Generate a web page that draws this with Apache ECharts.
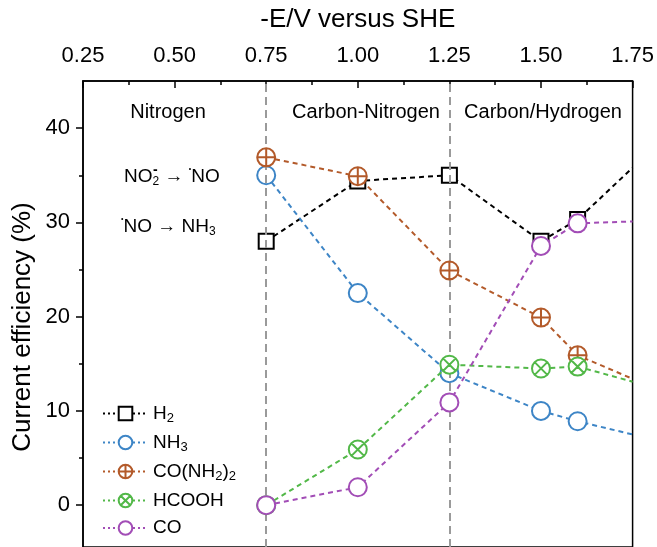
<!DOCTYPE html>
<html>
<head>
<meta charset="utf-8">
<script src="https://cdn.jsdelivr.net/npm/echarts@6/dist/echarts.min.js"></script>
<style>html,body{margin:0;padding:0;background:#fff}#c{width:657px;height:547px}</style>
</head>
<body>
<div id="c"></div>
<script>
// ---- data ----
const potentials = [0.75, 1.00, 1.25, 1.50, 1.60, 1.75];
const H2    = [28.0, 34.4, 35.0, 28.0, 30.3, 35.8];
const NH3   = [35.0, 22.5, 14.0, 10.0, 8.9, 7.5];
const UREA  = [36.9, 34.9, 24.9, 19.9, 15.9, 13.4];
const HCOOH = [0.0, 5.9, 14.9, 14.5, 14.7, 13.1];
const CO    = [0.0, 1.9, 10.9, 27.5, 29.9, 30.1];
const seriesNames = ['H2', 'NH3', 'CO(NH2)2', 'HCOOH', 'CO'];
const xTicks = [0.25, 0.50, 0.75, 1.00, 1.25, 1.50, 1.75];
const yMajor = [0, 10, 20, 30, 40];
const yMinor = [5, 15, 25, 35];
const boundaries = [0.75, 1.25];
const regions = ['Nitrogen', 'Carbon-Nitrogen', 'Carbon/Hydrogen'];

const FONT = '"Liberation Sans", Arial, Helvetica, sans-serif';
const colors = ['#000000', '#3d85c6', '#b35a2a', '#52b848', '#a24db6'];
const circlePlus = 'path://M0,-10A10,10 0 1,1 0,10A10,10 0 1,1 0,-10ZM-10,0L10,0M0,-10L0,10';
const circleX = 'path://M0,-10A10,10 0 1,1 0,10A10,10 0 1,1 0,-10ZM-7.07,-7.07L7.07,7.07M7.07,-7.07L-7.07,7.07';
const symbols = ['rect', 'circle', circlePlus, circleX, 'circle'];
const sizes = [15, 18, 18, 18, 18];
const allData = [H2, NH3, UREA, HCOOH, CO];

function mk(vals) {
  return vals.map((v, i) => {
    const it = { value: [potentials[i], v] };
    if (i === vals.length - 1) it.symbol = 'none';
    return it;
  });
}

const series = [{
  type: 'line', name: '_bounds', data: [], z: 1, silent: true,
  markLine: {
    silent: true, symbol: ['none', 'none'], label: { show: false },
    lineStyle: { color: '#9a9a9a', type: [8, 5], width: 2 },
    emphasis: { disabled: true },
    data: boundaries.map(b => ({ xAxis: b }))
  }
}];
allData.forEach((d, k) => {
  series.push({
    type: 'line', name: seriesNames[k], data: mk(d), z: 3 + k,
    symbol: symbols[k], symbolSize: sizes[k],
    lineStyle: { color: colors[k], width: 2, type: [5, 4] },
    itemStyle: { color: '#ffffff', borderColor: colors[k], borderWidth: 2 },
    emphasis: { disabled: true }
  });
});

const legendRich = {
  'H2': '{n|H}{s|2}',
  'NH3': '{n|NH}{s|3}',
  'CO(NH2)2': '{n|CO(NH}{s|2}{n|)}{s|2}',
  'HCOOH': '{n|HCOOH}',
  'CO': '{n|CO}'
};

const chart = echarts.init(document.getElementById('c'), null, { renderer: 'canvas' });
chart.setOption({
  animation: false,
  backgroundColor: '#fff',
  textStyle: { fontFamily: FONT, color: '#000' },
  grid: { left: 83, right: 24, top: 81, bottom: 0, show: true, borderColor: '#000', borderWidth: 1.5, backgroundColor: 'transparent' },
  xAxis: {
    type: 'value', position: 'top', min: 0.25, max: 1.75, interval: 0.25,
    name: '-E/V versus SHE', nameLocation: 'middle', nameGap: 48,
    nameTextStyle: { fontSize: 26, color: '#000', fontFamily: FONT },
    axisLine: { onZero: false, lineStyle: { color: '#000', width: 1.5 } },
    axisTick: { inside: true, length: 7, lineStyle: { color: '#000', width: 1.5 } },
    minorTick: { show: true, splitNumber: 2, length: 4, lineStyle: { color: '#000', width: 1.5 } },
    axisLabel: { fontSize: 22, margin: 14, color: '#000', fontFamily: FONT, formatter: v => v.toFixed(2) },
    splitLine: { show: false }
  },
  yAxis: [{
    type: 'value', position: 'left', min: -4.44, max: 45,
    axisLine: { show: true, onZero: false, lineStyle: { color: '#000', width: 1.5 } },
    axisTick: { show: true, length: 7, customValues: yMajor, lineStyle: { color: '#000', width: 1.5 } },
    axisLabel: { fontSize: 22, margin: 13, color: '#000', fontFamily: FONT, customValues: yMajor },
    splitLine: { show: false }
  }, {
    type: 'value', position: 'left', min: -4.44, max: 45,
    axisLine: { show: false, onZero: false },
    axisTick: { show: true, length: 4, customValues: yMinor, lineStyle: { color: '#000', width: 1.5 } },
    axisLabel: { show: false },
    splitLine: { show: false }
  }],
  legend: {
    orient: 'vertical', left: 97, top: 399,
    data: seriesNames,
    itemWidth: 45, itemHeight: 17, itemGap: 8.5,
    selectedMode: false,
    lineStyle: { type: [2, 3], width: 2 },
    formatter: n => legendRich[n],
    textStyle: {
      fontFamily: FONT, color: '#000',
      rich: {
        n: { fontSize: 19, lineHeight: 22, fontFamily: FONT, color: '#000' },
        s: { fontSize: 13, lineHeight: 13, verticalAlign: 'bottom', fontFamily: FONT, color: '#000' }
      }
    }
  },
  graphic: [
    { type: 'text', x: 23, y: 327, rotation: Math.PI / 2, style: { text: 'Current efficiency (%)', font: '26px ' + FONT, fill: '#000', align: 'center', verticalAlign: 'middle' } },
    { type: 'text', x: 168, y: 112, style: { text: regions[0], font: '20px ' + FONT, fill: '#000', align: 'center', verticalAlign: 'middle' } },
    { type: 'text', x: 366, y: 112, style: { text: regions[1], font: '20px ' + FONT, fill: '#000', align: 'center', verticalAlign: 'middle' } },
    { type: 'text', x: 543, y: 112, style: { text: regions[2], font: '20px ' + FONT, fill: '#000', align: 'center', verticalAlign: 'middle' } },
    { type: 'text', x: 124, y: 177, style: {
      text: '{a|NO}{sb|2}{a| \u2192 }{sp|\u2022}{a|NO}', align: 'left', verticalAlign: 'middle',
      rich: {
        a: { fontSize: 19, lineHeight: 22, fontFamily: FONT, fill: '#000' },
        sb: { fontSize: 12, lineHeight: 12, verticalAlign: 'bottom', fontFamily: FONT, fill: '#000' },
        sp: { fontSize: 7, lineHeight: 10, verticalAlign: 'top', fontFamily: FONT, fill: '#000' }
      } } },
    { type: 'text', x: 153, y: 170, style: { text: '-', font: 'bold 14px ' + FONT, fill: '#000', align: 'left', verticalAlign: 'middle' } },
    { type: 'text', x: 121, y: 227, style: {
      text: '{sp|\u2022}{a|NO \u2192 NH}{sb|3}', align: 'left', verticalAlign: 'middle',
      rich: {
        a: { fontSize: 19, lineHeight: 22, fontFamily: FONT, fill: '#000' },
        sb: { fontSize: 12, lineHeight: 12, verticalAlign: 'bottom', fontFamily: FONT, fill: '#000' },
        sp: { fontSize: 7, lineHeight: 10, verticalAlign: 'top', fontFamily: FONT, fill: '#000' }
      } } }
  ],
  series: series
});
</script>
</body>
</html>
